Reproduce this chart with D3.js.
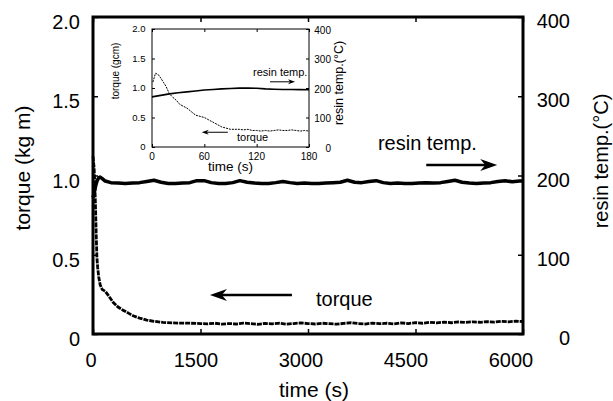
<!DOCTYPE html>
<html>
<head>
<meta charset="utf-8">
<script src="https://cdn.jsdelivr.net/npm/d3@7"></script>
<style>
  body { margin: 0; background: #fff; }
  svg text { font-family: "Liberation Sans", Arial, Helvetica, sans-serif; font-weight: normal; fill: #000; }
</style>
</head>
<body>
<svg id="chart" width="613" height="401"></svg>
<script>
// ---- main panel data: time (s) vs torque (kg m) / resin temp (°C)
var torqueMain = [
  [0,1.12],[15,1.05],[25,0.95],[35,0.80],[45,0.62],[55,0.48],[65,0.42],[80,0.36],
  [100,0.31],[130,0.28],[170,0.27],[220,0.24],[280,0.20],[350,0.17],[420,0.15],
  [500,0.13],[560,0.115],[650,0.10],[750,0.088],[850,0.080],[975,0.073],[1100,0.070],
  [1200,0.069],[1350,0.068],[1500,0.066],[1600,0.064],[1700,0.068],[1800,0.062],
  [1900,0.066],[2000,0.063],[2100,0.069],[2200,0.065],[2300,0.061],[2400,0.067],
  [2500,0.064],[2600,0.068],[2700,0.062],[2800,0.066],[2900,0.070],[3000,0.066],
  [3100,0.063],[3200,0.068],[3300,0.065],[3400,0.062],[3500,0.067],[3600,0.071],
  [3700,0.066],[3800,0.063],[3900,0.069],[4000,0.065],[4100,0.068],[4200,0.064],
  [4300,0.070],[4400,0.066],[4500,0.072],[4600,0.068],[4700,0.074],[4800,0.070],
  [4900,0.075],[5000,0.071],[5100,0.076],[5200,0.073],[5300,0.077],[5400,0.074],
  [5500,0.078],[5600,0.075],[5700,0.080],[5800,0.077],[5900,0.081],[6000,0.079]
];

var tempMain = [
  [0,172],[20,180],[40,188],[60,194],[80,197],[100,198],[130,196],[170,193],
  [250,191],[350,190.5],[450,190],[550,190.5],[650,191],[750,192.5],[850,194],
  [950,191.5],[1050,190],[1150,190],[1250,190.5],[1350,191],[1450,193.5],[1550,193.5],
  [1650,191],[1750,190],[1850,190],[1950,191],[2050,193.5],[2150,191.5],[2250,190.5],
  [2350,190],[2450,190],[2550,191],[2650,192.5],[2750,191],[2850,190],[2950,190.5],
  [3050,190],[3150,190],[3250,190.5],[3350,191],[3450,191.5],[3550,194],[3650,191.5],
  [3750,191],[3850,192.5],[3950,193.5],[4050,191],[4150,190],[4250,190.5],[4350,190],
  [4450,190],[4550,190.5],[4650,191],[4750,190.5],[4850,191],[4950,192.5],[5050,194],
  [5150,191.5],[5250,190.5],[5350,190],[5450,190.5],[5550,191],[5650,192.5],[5750,193.5],
  [5850,192],[5950,193],[6000,193]
];

// ---- inset data: time (s) vs torque (gcm) / resin temp (°C)
var torqueInset = [
  [1,1.10],[4,1.25],[7,1.23],[10,1.17],[13,1.10],[16,1.03],[20,0.90],[24,0.84],
  [28,0.79],[32,0.72],[36,0.69],[40,0.66],[45,0.60],[50,0.54],[55,0.52],[60,0.50],
  [65,0.46],[70,0.42],[75,0.38],[80,0.34],[85,0.32],[90,0.30],[95,0.30],[100,0.30],
  [105,0.29],[110,0.30],[115,0.28],[120,0.28],[125,0.27],[130,0.28],[135,0.27],
  [140,0.28],[145,0.29],[150,0.28],[155,0.28],[160,0.29],[165,0.28],[170,0.27],
  [175,0.28],[180,0.27]
];

var tempInset = [
  [0,170],[10,175],[20,180],[30,184],[40,187],[50,190],[60,193],[70,195],[80,197],
  [90,198.5],[100,199.5],[110,200],[120,199],[130,197],[140,196],[150,195],[160,195],
  [170,194.5],[180,194]
];

// ticks
var xTicksMain = [0, 1500, 3000, 4500, 6000];
var yTicksMain = [0, 0.5, 1.0, 1.5, 2.0];
var y2TicksMain = [0, 100, 200, 300, 400];
var xTicksInset = [0, 60, 120, 180];

var svg = d3.select("#chart");

var fmtTorque = function(d) { return d === 0 ? "0" : d3.format(".1f")(d); };

/********** MAIN PANEL **********/
var m = {left: 93, right: 523, top: 17, bottom: 334};

var x = d3.scaleLinear().domain([0, 6000]).range([m.left, m.right]);
var y = d3.scaleLinear().domain([0, 2]).range([m.bottom, m.top]);
var y2 = d3.scaleLinear().domain([0, 400]).range([m.bottom, m.top]);
// tick labels of the original sit a little left of their ticks, more so to the right
var xLab = d3.scaleLinear().domain([0, 6000]).range([91, 511]);

function ticks(g, axis) {
  g.call(axis);
  g.select(".domain").remove();
  return g;
}

var tickLen = 5;
var gm = svg.append("g").attr("class", "main");

ticks(gm.append("g").attr("transform", "translate(0," + m.bottom + ")"),
  d3.axisBottom(x).tickValues(xTicksMain).tickSize(-tickLen).tickFormat(""));
ticks(gm.append("g").attr("transform", "translate(0," + m.top + ")"),
  d3.axisTop(x).tickValues(xTicksMain).tickSize(-tickLen).tickFormat(""));
ticks(gm.append("g").attr("transform", "translate(" + m.left + ",0)"),
  d3.axisLeft(y).tickValues(yTicksMain).tickSize(-tickLen).tickFormat(""));
ticks(gm.append("g").attr("transform", "translate(" + m.right + ",0)"),
  d3.axisRight(y2).tickValues(y2TicksMain).tickSize(-tickLen).tickFormat(""));
gm.selectAll(".tick line").attr("stroke", "#000").attr("stroke-width", 1.5);

// tick labels
gm.selectAll(".xlab").data(xTicksMain).enter().append("text")
  .attr("x", function(d) { return xLab(d); })
  .attr("y", 367)
  .attr("text-anchor", "middle")
  .style("font-size", "20px")
  .text(function(d) { return d; });

gm.selectAll(".ylab").data(yTicksMain).enter().append("text")
  .attr("x", 80)
  .attr("y", function(d) { return y(d) + 5; })
  .attr("dy", "0.35em")
  .attr("text-anchor", "end")
  .style("font-size", "20px")
  .text(fmtTorque);

gm.selectAll(".y2lab").data(y2TicksMain).enter().append("text")
  .attr("x", 570)
  .attr("y", function(d) { return y2(d) + 4; })
  .attr("dy", "0.35em")
  .attr("text-anchor", "end")
  .style("font-size", "20px")
  .text(function(d) { return d; });

// axis titles
gm.append("text").attr("x", 314).attr("y", 397).attr("text-anchor", "middle")
  .style("font-size", "21px").text("time (s)");
gm.append("text").attr("transform", "translate(23,168) rotate(-90)")
  .attr("dy", "0.35em").attr("text-anchor", "middle")
  .style("font-size", "21px").text("torque (kg m)");
gm.append("text").attr("transform", "translate(601,161) rotate(-90)")
  .attr("dy", "0.35em").attr("text-anchor", "middle")
  .style("font-size", "20px").text("resin temp.(\u00B0C)");

// series
var lineTorque = d3.line().x(function(d) { return x(d[0]); }).y(function(d) { return y(d[1]); });
var lineTemp = d3.line().x(function(d) { return x(d[0]); }).y(function(d) { return y2(d[1]); });

gm.append("path").datum(tempMain)
  .attr("d", lineTemp)
  .attr("fill", "none").attr("stroke", "#000").attr("stroke-width", 3.5)
  .attr("stroke-linejoin", "round");

gm.append("path").datum(torqueMain)
  .attr("d", lineTorque)
  .attr("fill", "none").attr("stroke", "#000").attr("stroke-width", 2.8)
  .attr("stroke-dasharray", "5,1");

// frame
gm.append("rect")
  .attr("x", m.left).attr("y", m.top)
  .attr("width", m.right - m.left).attr("height", m.bottom - m.top)
  .attr("fill", "none").attr("stroke", "#000").attr("stroke-width", 3);

// arrows
function arrow(g, x1, y1, x2, y2, w, headLen, headHalf) {
  var dir = x2 > x1 ? 1 : -1;
  g.append("line")
    .attr("x1", x1).attr("y1", y1)
    .attr("x2", x2 - dir * headLen * 0.6).attr("y2", y2)
    .attr("stroke", "#000").attr("stroke-width", w);
  g.append("path")
    .attr("d", "M" + x2 + "," + y2 +
      "L" + (x2 - dir * headLen) + "," + (y2 - headHalf) +
      "L" + (x2 - dir * headLen * 0.7) + "," + y2 +
      "L" + (x2 - dir * headLen) + "," + (y2 + headHalf) + "Z")
    .attr("fill", "#000");
}

// annotations (placed in data coordinates)
gm.append("text").attr("x", x(3976)).attr("y", y(1.16))
  .style("font-size", "20px").text("resin temp.");
arrow(gm, x(4650), y(1.066), x(5640), y(1.066), 2.5, 17, 6);

gm.append("text").attr("x", x(3111)).attr("y", y(0.178))
  .style("font-size", "20px").text("torque");
arrow(gm, x(2776), y(0.246), x(1632), y(0.246), 2.5, 17, 6);

/********** INSET **********/
var n = {left: 152, right: 309, top: 29, bottom: 147};
var xi = d3.scaleLinear().domain([0, 180]).range([n.left, n.right]);
var yi = d3.scaleLinear().domain([0, 2]).range([n.bottom, n.top]);
var yi2 = d3.scaleLinear().domain([0, 400]).range([n.bottom, n.top]);

var gi = svg.append("g").attr("class", "inset");

gi.append("rect")
  .attr("x", n.left).attr("y", n.top)
  .attr("width", n.right - n.left).attr("height", n.bottom - n.top)
  .attr("fill", "#fff");

var tl = 3;
ticks(gi.append("g").attr("transform", "translate(0," + n.bottom + ")"),
  d3.axisBottom(xi).tickValues(xTicksInset).tickSize(-tl).tickFormat(""));
ticks(gi.append("g").attr("transform", "translate(0," + n.top + ")"),
  d3.axisTop(xi).tickValues(xTicksInset).tickSize(-tl).tickFormat(""));
ticks(gi.append("g").attr("transform", "translate(" + n.left + ",0)"),
  d3.axisLeft(yi).tickValues(yTicksMain).tickSize(-tl).tickFormat(""));
ticks(gi.append("g").attr("transform", "translate(" + n.right + ",0)"),
  d3.axisRight(yi2).tickValues(y2TicksMain).tickSize(-tl).tickFormat(""));
gi.selectAll(".tick line").attr("stroke", "#000").attr("stroke-width", 1);

gi.selectAll(".xlab").data(xTicksInset).enter().append("text")
  .attr("x", function(d) { return xi(d); })
  .attr("y", 156).attr("dy", "0.35em")
  .attr("text-anchor", "middle")
  .style("font-size", "10px")
  .text(function(d) { return d; });

gi.selectAll(".ylab").data(yTicksMain).enter().append("text")
  .attr("x", 145.5)
  .attr("y", function(d) { return yi(d); })
  .attr("dy", "0.35em")
  .attr("text-anchor", "end")
  .style("font-size", "9.5px")
  .text(fmtTorque);

gi.selectAll(".y2lab").data(y2TicksMain).enter().append("text")
  .attr("x", 331)
  .attr("y", function(d) { return yi2(d) + 1; })
  .attr("dy", "0.35em")
  .attr("text-anchor", "end")
  .style("font-size", "10px")
  .text(function(d) { return d; });

gi.append("text").attr("x", 230.5).attr("y", 171).attr("text-anchor", "middle")
  .style("font-size", "13.5px").text("time (s)");
gi.append("text").attr("transform", "translate(115,71) rotate(-90)")
  .attr("dy", "0.35em").attr("text-anchor", "middle")
  .style("font-size", "10px").text("torque (gcm)");
gi.append("text").attr("transform", "translate(339,83) rotate(-90)")
  .attr("dy", "0.35em").attr("text-anchor", "middle")
  .style("font-size", "12.5px").text("resin temp.(\u00B0C)");

var lineTorqueI = d3.line().x(function(d) { return xi(d[0]); }).y(function(d) { return yi(d[1]); });
var lineTempI = d3.line().x(function(d) { return xi(d[0]); }).y(function(d) { return yi2(d[1]); });

gi.append("path").datum(tempInset)
  .attr("d", lineTempI)
  .attr("fill", "none").attr("stroke", "#000").attr("stroke-width", 1.6);

gi.append("path").datum(torqueInset)
  .attr("d", lineTorqueI)
  .attr("fill", "none").attr("stroke", "#000").attr("stroke-width", 1)
  .attr("stroke-dasharray", "2,1");

gi.append("rect")
  .attr("x", n.left).attr("y", n.top)
  .attr("width", n.right - n.left).attr("height", n.bottom - n.top)
  .attr("fill", "none").attr("stroke", "#000").attr("stroke-width", 1);

gi.append("text").attr("x", xi(115.8)).attr("y", yi2(241.7))
  .style("font-size", "11px").text("resin temp.");
arrow(gi, xi(135.3), yi2(221), xi(164), yi2(221), 1, 7, 2.5);

gi.append("text").attr("x", xi(97.5)).attr("y", yi2(21))
  .style("font-size", "11px").text("torque");
arrow(gi, xi(87), yi2(50), xi(57), yi2(50), 1, 7, 2.5);
</script>
</body>
</html>
